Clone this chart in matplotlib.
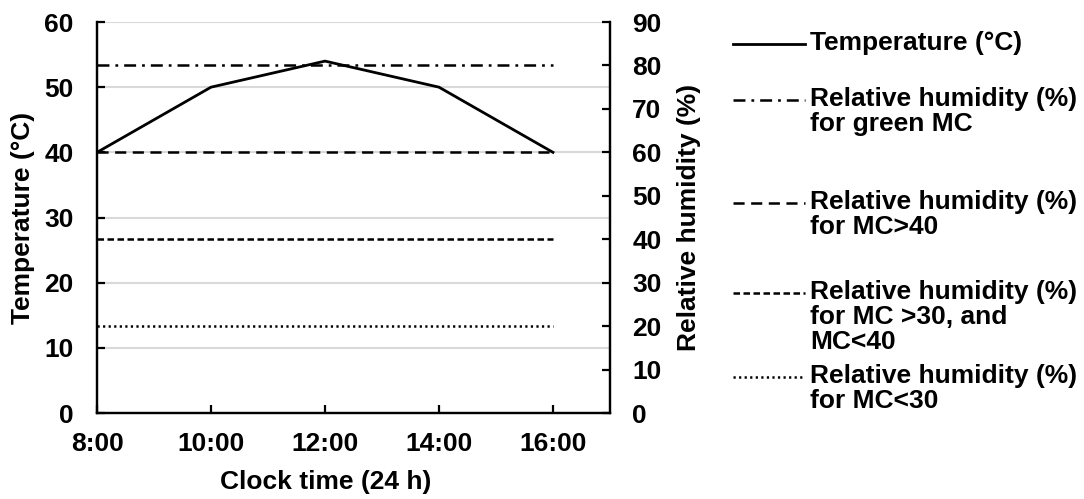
import matplotlib.pyplot as plt
from matplotlib.lines import Line2D

# data
hours = [8, 10, 12, 14, 16]
hour_labels = ["8:00", "10:00", "12:00", "14:00", "16:00"]
temperature = [40, 50, 54, 50, 40]
rh_green = [80, 80, 80, 80, 80]
rh_mc_above_40 = [60, 60, 60, 60, 60]
rh_mc_30_40 = [40, 40, 40, 40, 40]
rh_mc_below_30 = [20, 20, 20, 20, 20]

legend_labels = [
    "Temperature (°C)",
    "Relative humidity (%)\nfor green MC",
    "Relative humidity (%)\nfor MC>40",
    "Relative humidity (%)\nfor MC >30, and\nMC<40",
    "Relative humidity (%)\nfor MC<30",
]

plt.rcParams["font.family"] = ["Liberation Sans", "DejaVu Sans"]
plt.rcParams["font.weight"] = "bold"
plt.rcParams["lines.scale_dashes"] = False

FS = 19
LW = 1.8
styles = [
    "-",                        # solid
    (0, (8.6, 4.3, 2.0, 4.3)),  # dash-dot
    (0, (8.0, 4.7)),            # long dash
    (0, (4.7, 2.5)),            # short dash
    (0, (1.6, 2.4)),            # dotted
]

fig = plt.figure(figsize=(10.84, 4.99), dpi=100)
ax = fig.add_axes([0.0895, 0.1723, 0.4732, 0.7836])
ax2 = ax.twinx()

ax.set_xlim(8, 17)
ax.set_ylim(0, 60)
ax2.set_ylim(0, 90)

ax.set_yticks(range(0, 61, 10))
ax2.set_yticks(range(0, 91, 10))
ax.set_xticks(hours)
ax.set_xticklabels(hour_labels)

ax.grid(axis="y", color="#d9d9d9", linewidth=1.5)
ax.set_axisbelow(True)

ax.plot(hours, temperature, color="black", linewidth=2.0, solid_joinstyle="miter")
rh_series = [rh_green, rh_mc_above_40, rh_mc_30_40, rh_mc_below_30]
for series, ls in zip(rh_series, styles[1:]):
    ax2.plot(hours, series, color="black", linewidth=LW, linestyle=ls)

for a in (ax, ax2):
    a.spines["top"].set_visible(False)
    for s in ("left", "right", "bottom"):
        a.spines[s].set_linewidth(1.6)
ax.tick_params(axis="y", direction="in", length=6, width=1.6, labelsize=FS, pad=17)
ax.tick_params(axis="x", direction="in", length=6, width=1.6, labelsize=FS, pad=14)
ax2.tick_params(axis="y", direction="in", length=6, width=1.6, labelsize=FS, pad=16)

ax.set_ylabel("Temperature (°C)", fontsize=FS, fontweight="bold")
ax.yaxis.set_label_coords(-0.12, 0.5)
ax2.set_ylabel("Relative humidity (%)", fontsize=FS, fontweight="bold")
ax2.yaxis.set_label_coords(1.131, 0.5)
ax.set_xlabel("Clock time (24 h)", fontsize=FS, fontweight="bold")
ax.xaxis.set_label_coords(0.446, -0.146)

# legend drawn Excel-style: handle aligned with first text row
W, H = 1084.0, 499.0
rows_y = [44, 100, 203, 293, 377]
for label, ls, y in zip(legend_labels, styles, rows_y):
    yf = 1 - y / H
    fig.add_artist(Line2D([733 / W, 805 / W], [yf, yf], transform=fig.transFigure,
                          color="black", linewidth=2.0 if ls == "-" else LW,
                          linestyle=ls))
    fig.text(810 / W, yf + 13 / H, label, fontsize=FS, fontweight="bold",
             ha="left", va="top", linespacing=1.05)

fig.savefig("out.png", dpi=100)
